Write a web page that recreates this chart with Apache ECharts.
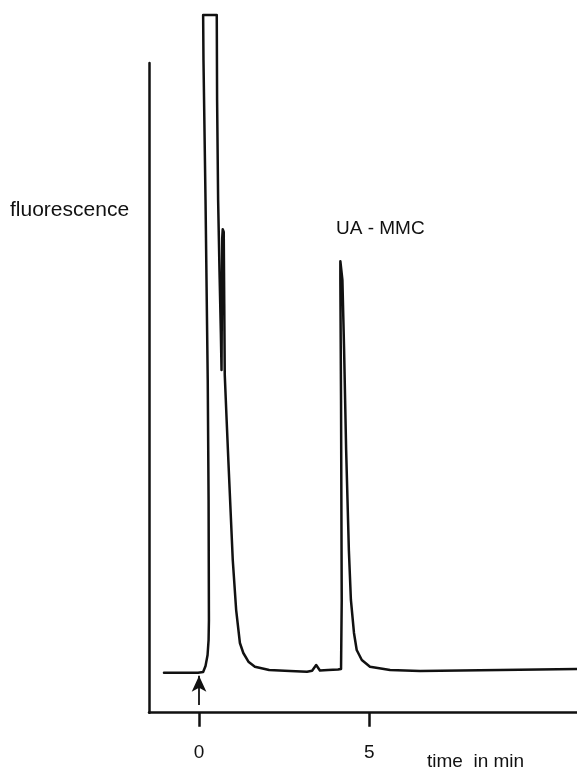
<!DOCTYPE html>
<html>
<head>
<meta charset="utf-8">
<title>Chromatogram UA - MMC</title>
<script src="https://cdn.jsdelivr.net/npm/echarts@6/dist/echarts.min.js"></script>
<style>
  html, body { margin: 0; padding: 0; background: #ffffff; }
  #chart { width: 577px; height: 770px; }
</style>
</head>
<body>
<div id="chart"></div>
<script>
// Retention time (min) of each sampled point of the detector trace
const timeMin = [
  -1.03, -0.03, 0.12, 0.19, 0.25, 0.28, 0.29, 0.28, 0.255, 0.19, 0.13, 0.12,
  0.52, 0.53, 0.56, 0.60, 0.64, 0.66, 0.68, 0.695, 0.725, 0.74, 0.755, 0.81, 0.86,
  0.99, 1.09, 1.20, 1.30, 1.45, 1.64, 2.06, 2.67, 3.17, 3.32, 3.44, 3.55,
  3.79, 4.08, 4.17, 4.19, 4.17, 4.15, 4.15, 4.18, 4.21, 4.26, 4.32, 4.40,
  4.46, 4.55, 4.63, 4.78, 5.02, 5.61, 6.49, 8.84, 11.10
];
// Fluorescence signal (arbitrary units) at those times; the solvent front runs off scale
const fluorescence = [
  6.16, 6.16, 6.26, 7.19, 8.88, 11.19, 14.27, 32.74, 51.2, 78.9, 100.45, 107.4,
  107.4, 94.3, 78.9, 68.1, 58.5, 52.75, 73.0, 74.4, 74.0, 63.0, 52.0, 45.05, 38.9,
  23.5, 15.8, 10.73, 9.19, 7.85, 7.08, 6.57, 6.42, 6.31, 6.45, 7.34, 6.50,
  6.57, 6.65, 6.73, 17.35, 48.1, 66.6, 69.5, 69.5, 66.6, 55.8, 40.4, 25.0,
  17.35, 12.27, 9.65, 8.11, 7.08, 6.57, 6.42, 6.57, 6.73
];
// Labelled time ticks
const timeTicks = [0, 5];
// Injection marker: time and the signal span of the arrow
const injection = { time: 0, from: 1.19, to: 5.7 };

const trace = timeMin.map((t, i) => [t, fluorescence[i]]);

const chart = echarts.init(document.getElementById('chart'), null, { renderer: 'canvas' });

const fontFamily = '"Liberation Sans", Arial, Helvetica, sans-serif';
const ink = '#111111';

chart.setOption({
  animation: false,
  backgroundColor: '#ffffff',
  grid: { left: 149, right: 0, top: 63, bottom: 57.3, containLabel: false },
  xAxis: {
    type: 'value',
    min: -1.47,
    max: 11.1,
    axisLine: { show: true, onZero: false, lineStyle: { color: ink, width: 2.5 } },
    axisTick: {
      show: true, inside: false, length: 14,
      customValues: timeTicks,
      lineStyle: { color: ink, width: 2.5 }
    },
    axisLabel: {
      show: true, customValues: timeTicks, margin: 31,
      fontSize: 19, color: ink, fontFamily: fontFamily
    },
    splitLine: { show: false }
  },
  yAxis: {
    type: 'value',
    min: 0,
    max: 100,
    axisLine: { show: true, onZero: false, lineStyle: { color: ink, width: 2.5 } },
    axisTick: { show: false },
    axisLabel: { show: false },
    splitLine: { show: false }
  },
  series: [{
    type: 'line',
    data: trace,
    clip: false,
    showSymbol: false,
    symbol: 'none',
    smooth: false,
    lineStyle: { color: ink, width: 2.5, join: 'round', cap: 'round' },
    markLine: {
      silent: true,
      symbol: ['none', 'arrow'],
      symbolSize: [11, 16],
      label: { show: false },
      lineStyle: { color: ink, width: 1.8, type: 'solid' },
      data: [[
        { coord: [injection.time, injection.from] },
        { coord: [injection.time, injection.to] }
      ]]
    }
  }],
  graphic: [
    {
      type: 'text', left: 10, top: 200,
      style: { text: 'fluorescence', fontSize: 21, fontFamily: fontFamily, fill: ink }
    },
    {
      type: 'text', left: 336, top: 219,
      style: { text: 'UA - MMC', fontSize: 19, fontFamily: fontFamily, fill: ink }
    },
    {
      type: 'text', left: 427, top: 752,
      style: { text: 'time  in min', fontSize: 19, fontFamily: fontFamily, fill: ink }
    }
  ]
});
</script>
</body>
</html>
